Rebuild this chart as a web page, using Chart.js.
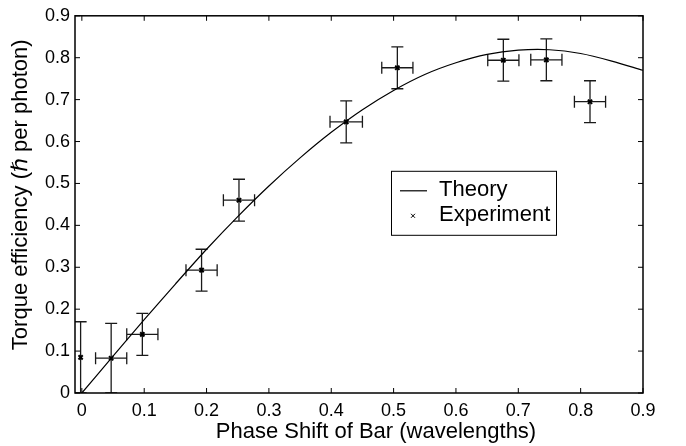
<!DOCTYPE html>
<html>
<head>
<meta charset="utf-8">
<script src="https://cdn.jsdelivr.net/npm/chart.js@4/dist/chart.umd.min.js"></script>
<style>
    body { margin: 0; background: #fff; }
    #wrap { width: 686px; height: 446px; position: relative; }
</style>
</head>
<body>
<div id="wrap"><canvas id="torqueChart"></canvas></div>
<script>
// axis ticks
const xTicks = [0, 0.1, 0.2, 0.3, 0.4, 0.5, 0.6, 0.7, 0.8, 0.9];
const yTicks = [0, 0.1, 0.2, 0.3, 0.4, 0.5, 0.6, 0.7, 0.8, 0.9];

// theory curve
const theoryX = [0, 0.05, 0.1, 0.15, 0.2, 0.25, 0.3, 0.35, 0.4, 0.45, 0.5, 0.55, 0.6, 0.65, 0.7, 0.75, 0.8, 0.85, 0.9];
const theoryY = [0, 0.088, 0.175, 0.260, 0.343, 0.421, 0.494, 0.561, 0.622, 0.676, 0.722, 0.760, 0.788, 0.808, 0.818, 0.819, 0.810, 0.792, 0.770];

// measured points with error bars
const expX = [-0.002, 0.047, 0.097, 0.192, 0.252, 0.424, 0.506, 0.676, 0.745, 0.815];
const expY = [0.085, 0.083, 0.140, 0.293, 0.460, 0.647, 0.776, 0.794, 0.795, 0.695];
const expXErr = [0, 0.025, 0.025, 0.025, 0.025, 0.026, 0.025, 0.025, 0.025, 0.025];
const expYErr = [0.085, 0.083, 0.05, 0.05, 0.05, 0.05, 0.05, 0.05, 0.05, 0.05];

const legendLabels = ['Theory', 'Experiment'];
const xTitle = 'Phase Shift of Bar (wavelengths)';
const yTitle = 'Torque efficiency (ℏ per photon)';

const FONT = "'Liberation Sans', Arial, 'DejaVu Sans', sans-serif";

// box round the plot with ticks pointing inward on all four sides
const framePlugin = {
    id: 'frame',
    afterDraw(chart) {
        const ctx = chart.ctx;
        const {left, right, top, bottom} = chart.chartArea;
        const tick = 5;
        ctx.save();
        ctx.strokeStyle = '#000';
        ctx.lineWidth = 1.5;
        ctx.strokeRect(left, top, right - left, bottom - top);
        ctx.lineWidth = 1;
        ctx.beginPath();
        chart.scales.x.ticks.forEach(t => {
            const px = chart.scales.x.getPixelForValue(t.value);
            ctx.moveTo(px, bottom); ctx.lineTo(px, bottom - tick);
            ctx.moveTo(px, top); ctx.lineTo(px, top + tick);
        });
        chart.scales.y.ticks.forEach(t => {
            const py = chart.scales.y.getPixelForValue(t.value);
            ctx.moveTo(left, py); ctx.lineTo(left + tick, py);
            ctx.moveTo(right, py); ctx.lineTo(right - tick, py);
        });
        ctx.stroke();
        ctx.restore();
    }
};

// axis titles, placed a little off-centre like the original figure
const axisTitlePlugin = {
    id: 'axisTitles',
    afterDraw(chart) {
        const ctx = chart.ctx;
        const ca = chart.chartArea;
        ctx.save();
        ctx.fillStyle = '#000';
        ctx.font = '22px ' + FONT;
        ctx.textAlign = 'center';
        ctx.textBaseline = 'alphabetic';
        ctx.fillText(xTitle, ca.left + 301, 438);
        ctx.translate(27, ca.top + 179);
        ctx.rotate(-Math.PI / 2);
        ctx.fillText(yTitle, 0, 0);
        ctx.restore();
    }
};

// x and y error bars for the experiment dataset
const errorBarPlugin = {
    id: 'errorBars',
    beforeDatasetsDraw(chart) {
        const ctx = chart.ctx;
        const xs = chart.scales.x, ys = chart.scales.y;
        const ca = chart.chartArea;
        const cap = 6;
        ctx.save();
        ctx.beginPath();
        ctx.rect(ca.left, ca.top, ca.right - ca.left, ca.bottom - ca.top);
        ctx.clip();
        ctx.strokeStyle = '#1a1a1a';
        ctx.lineWidth = 1.3;
        ctx.beginPath();
        expX.forEach((x, i) => {
            const px = xs.getPixelForValue(x);
            const py = ys.getPixelForValue(expY[i]);
            const y1 = ys.getPixelForValue(expY[i] + expYErr[i]);
            const y0 = ys.getPixelForValue(expY[i] - expYErr[i]);
            ctx.moveTo(px, y0); ctx.lineTo(px, y1);
            ctx.moveTo(px - cap, y1); ctx.lineTo(px + cap, y1);
            ctx.moveTo(px - cap, y0); ctx.lineTo(px + cap, y0);
            if (expXErr[i] > 0) {
                const x0 = xs.getPixelForValue(x - expXErr[i]);
                const x1 = xs.getPixelForValue(x + expXErr[i]);
                ctx.moveTo(x0, py); ctx.lineTo(x1, py);
                ctx.moveTo(x0, py - cap); ctx.lineTo(x0, py + cap);
                ctx.moveTo(x1, py - cap); ctx.lineTo(x1, py + cap);
            }
        });
        ctx.stroke();
        ctx.restore();
    }
};

// legend box sitting inside the plot
const boxLegendPlugin = {
    id: 'boxLegend',
    afterDraw(chart) {
        const ctx = chart.ctx;
        const ca = chart.chartArea;
        const bx = ca.left + 316, by = ca.top + 155, bw = 165, bh = 64;
        ctx.save();
        ctx.fillStyle = '#fff';
        ctx.fillRect(bx, by, bw, bh);
        ctx.strokeStyle = '#000';
        ctx.lineWidth = 1;
        ctx.strokeRect(bx + 0.5, by + 0.5, bw, bh);
        // theory sample
        ctx.beginPath();
        ctx.moveTo(bx + 9, by + 20); ctx.lineTo(bx + 36, by + 20);
        ctx.lineWidth = 1.2;
        ctx.stroke();
        // experiment marker
        const mx = bx + 22, my = by + 45;
        ctx.beginPath();
        ctx.moveTo(mx - 2, my - 2); ctx.lineTo(mx + 2, my + 2);
        ctx.moveTo(mx - 2, my + 2); ctx.lineTo(mx + 2, my - 2);
        ctx.lineWidth = 1;
        ctx.stroke();
        ctx.fillStyle = '#000';
        ctx.font = '22px ' + FONT;
        ctx.textBaseline = 'middle';
        ctx.textAlign = 'left';
        ctx.fillText(legendLabels[0], bx + 48, by + 19);
        ctx.fillText(legendLabels[1], bx + 48, by + 44);
        ctx.restore();
    }
};

new Chart(document.getElementById('torqueChart'), {
    type: 'scatter',
    data: {
        datasets: [{
            label: legendLabels[0],
            data: theoryX.map((x, i) => ({x: x, y: theoryY[i]})),
            showLine: true,
            borderColor: '#000',
            borderWidth: 1.2,
            pointRadius: 0,
            tension: 0.3
        }, {
            label: legendLabels[1],
            data: expX.map((x, i) => ({x: x, y: expY[i]})),
            pointStyle: 'crossRot',
            pointRadius: 3,
            borderColor: '#000',
            backgroundColor: '#000',
            borderWidth: 2
        }]
    },
    options: {
        responsive: true,
        maintainAspectRatio: false,
        animation: false,
        layout: { padding: { top: 15, right: 43, left: 0, bottom: 0 } },
        plugins: {
            legend: { display: false },
            tooltip: { enabled: false }
        },
        scales: {
            x: {
                type: 'linear',
                min: -0.011,
                max: 0.9,
                afterBuildTicks: s => { s.ticks = xTicks.map(v => ({value: v})); },
                afterFit: s => { s.height = 53; },
                grid: { display: false, drawTicks: false },
                border: { display: false },
                ticks: {
                    padding: 7,
                    color: '#000',
                    font: { family: FONT, size: 18 },
                    callback: v => v === 0 ? '0' : v.toFixed(1)
                }
            },
            y: {
                type: 'linear',
                min: 0,
                max: 0.9,
                afterBuildTicks: s => { s.ticks = yTicks.map(v => ({value: v})); },
                afterFit: s => { s.width = 75; },
                grid: { display: false, drawTicks: false },
                border: { display: false },
                ticks: {
                    padding: 5,
                    color: '#000',
                    font: { family: FONT, size: 18 },
                    callback: v => v === 0 ? '0' : v.toFixed(1)
                }
            }
        }
    },
    plugins: [framePlugin, errorBarPlugin, boxLegendPlugin, axisTitlePlugin]
});
</script>
</body>
</html>
